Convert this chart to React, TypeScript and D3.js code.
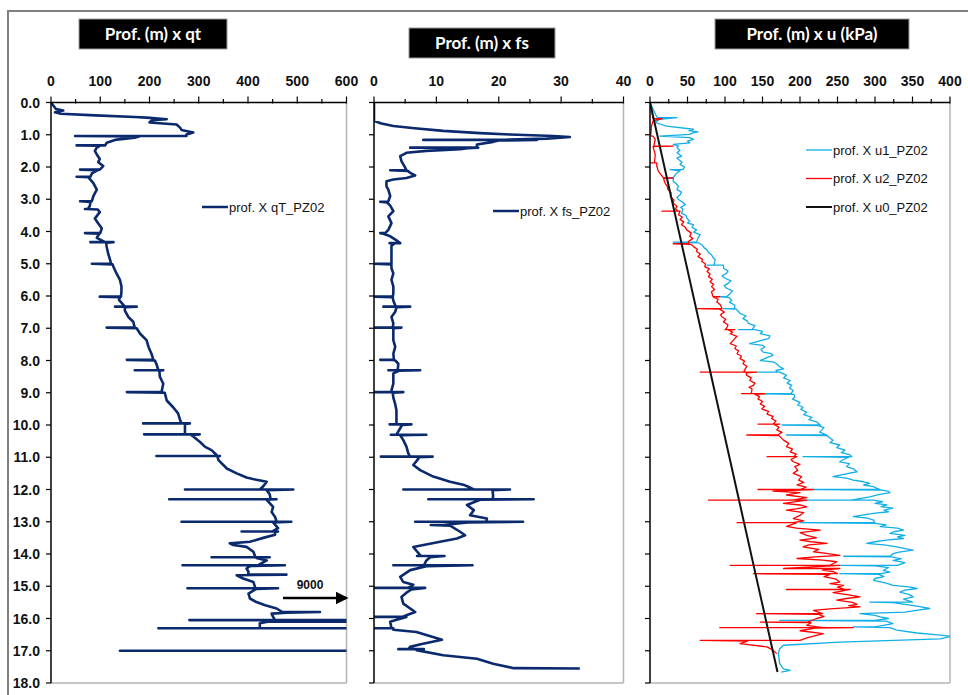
import React from "react";
import * as d3 from "d3";

// depth (m), value
const qtProfile: [number, number][] = [
  [0, 0], [0.1, 5], [0.2, 10], [0.25, 25], [0.3, 8], [0.35, 20], [0.4, 90], [0.45, 170], [0.47, 194],
  [0.52, 235], [0.55, 205], [0.62, 200], [0.68, 255], [0.78, 262], [0.85, 265], [0.93, 289], [0.99, 275],
  [1.04, 275], [1.04, 49], [1.05, 180], [1.09, 170], [1.15, 133], [1.25, 113], [1.33, 110], [1.33, 52],
  [1.34, 100], [1.4, 93], [1.5, 89], [1.61, 93], [1.75, 99], [1.85, 96], [1.97, 106], [2.08, 99], [2.08, 59],
  [2.1, 95], [2.2, 83], [2.3, 80], [2.3, 52], [2.32, 76], [2.5, 86], [2.7, 93], [2.9, 86], [3.06, 83],
  [3.06, 59], [3.08, 80], [3.2, 79], [3.3, 75], [3.3, 69], [3.32, 95], [3.4, 99], [3.6, 89], [3.75, 96],
  [3.9, 103], [4.05, 100], [4.05, 69], [4.07, 98], [4.2, 93], [4.33, 110], [4.33, 80], [4.33, 127],
  [4.35, 112], [4.47, 113], [4.68, 116], [4.88, 120], [5.0, 122], [5.0, 83], [5.02, 125], [5.1, 127],
  [5.3, 133], [5.5, 140], [5.7, 143], [5.87, 143], [6.02, 142], [6.02, 99], [6.04, 140], [6.12, 138],
  [6.33, 150], [6.33, 130], [6.33, 174], [6.35, 150], [6.45, 150], [6.65, 157], [6.8, 167], [6.98, 170],
  [6.98, 113], [7.0, 174], [7.17, 181], [7.37, 194], [7.58, 198], [7.79, 204], [7.98, 208], [7.98, 154],
  [8.0, 211], [8.15, 215], [8.3, 218], [8.3, 170], [8.3, 228], [8.32, 220], [8.5, 221], [8.72, 228],
  [8.93, 225], [8.98, 226], [8.98, 154], [9.0, 231], [9.24, 235], [9.45, 248], [9.64, 258], [9.84, 262],
  [9.95, 265], [9.95, 187], [9.95, 282], [9.97, 272], [10.1, 272], [10.29, 272], [10.29, 189], [10.29, 302],
  [10.31, 285], [10.52, 302], [10.68, 313], [10.78, 326], [10.93, 336], [10.96, 338], [10.96, 214],
  [10.96, 343], [10.98, 338], [11.09, 340], [11.35, 357], [11.5, 377], [11.63, 397], [11.7, 417],
  [11.76, 438], [11.9, 431], [12.0, 424], [12.0, 272], [12.0, 492], [12.02, 438], [12.15, 444], [12.3, 446],
  [12.3, 240], [12.3, 458], [12.32, 438], [12.54, 451], [12.7, 448], [12.85, 455], [13.0, 458], [13.0, 265],
  [13.0, 488], [13.02, 451], [13.2, 461], [13.3, 450], [13.3, 387], [13.3, 461], [13.32, 455], [13.4, 455],
  [13.5, 431], [13.62, 404], [13.67, 363], [13.72, 370], [13.78, 397], [13.93, 411], [14.1, 415],
  [14.1, 326], [14.1, 444], [14.12, 417], [14.2, 438], [14.35, 420], [14.35, 267], [14.35, 475],
  [14.37, 405], [14.45, 397], [14.55, 401], [14.64, 400], [14.64, 478], [14.66, 377], [14.76, 390],
  [14.87, 411], [15.06, 415], [15.06, 277], [15.06, 461], [15.08, 417], [15.23, 401], [15.38, 404],
  [15.49, 417], [15.59, 435], [15.69, 458], [15.8, 470], [15.8, 546], [15.82, 478], [15.85, 448],
  [15.95, 451], [16.05, 455], [16.05, 281], [16.05, 9000], [16.1, 440], [16.15, 424], [16.3, 424],
  [16.3, 218], [16.3, 9000], [16.38, 9000], [17.0, 9000], [17.0, 140], [17.0, 9000], [17.7, 9000],
];

const fsProfile: [number, number][] = [
  [0, 0], [0.3, 0], [0.57, 0], [0.65, 1.2], [0.73, 3.1], [0.8, 6.5], [0.88, 11.1], [0.95, 17], [0.99, 21.8],
  [1.04, 28.8], [1.07, 31.4], [1.12, 27.7], [1.15, 21.8], [1.16, 21], [1.16, 7.9], [1.16, 26.1], [1.18, 20],
  [1.22, 19.1], [1.3, 16.5], [1.4, 16.5], [1.4, 5.8], [1.4, 16.7], [1.42, 15], [1.45, 13.8], [1.5, 8.4],
  [1.56, 5.2], [1.66, 4.2], [1.82, 4.4], [2.02, 5.0], [2.1, 5.2], [2.1, 2.6], [2.12, 5.4], [2.18, 5.8],
  [2.26, 6.6], [2.34, 5.2], [2.39, 3.1], [2.44, 2.0], [2.6, 2.0], [2.7, 2.3], [2.9, 2.6], [3.06, 2.3],
  [3.08, 2.2], [3.08, 1.0], [3.1, 2.1], [3.2, 2.6], [3.37, 3.1], [3.53, 2.3], [3.74, 2.8], [3.95, 2.3],
  [4.05, 1.8], [4.05, 1.0], [4.07, 1.5], [4.15, 2.6], [4.3, 3.8], [4.36, 4.2], [4.36, 2.5], [4.38, 3.2],
  [4.45, 2.8], [4.78, 2.8], [5.0, 2.8], [5.0, 0], [5.02, 2.8], [5.14, 2.8], [5.3, 3.1], [5.5, 2.8],
  [5.7, 3.1], [5.92, 3.1], [6.02, 3.0], [6.02, 0], [6.04, 3.0], [6.15, 3.1], [6.33, 3.5], [6.33, 1.5],
  [6.33, 5.8], [6.35, 3.6], [6.49, 3.4], [6.65, 2.8], [6.85, 3.1], [6.98, 3.0], [6.98, 0], [6.98, 4.4],
  [7.0, 3.1], [7.2, 3.1], [7.37, 3.1], [7.58, 3.4], [7.79, 3.1], [7.98, 3.2], [7.98, 1.0], [7.98, 3.0],
  [8.0, 3.4], [8.1, 3.9], [8.3, 3.8], [8.3, 2.3], [8.3, 7.4], [8.32, 4.0], [8.4, 3.1], [8.72, 3.1],
  [8.93, 2.8], [8.98, 2.8], [8.98, 0], [8.98, 4.7], [9.0, 3.0], [9.15, 3.1], [9.35, 3.4], [9.55, 3.6],
  [9.84, 3.6], [9.98, 3.6], [9.98, 2.5], [9.98, 6.0], [10.0, 4.5], [10.1, 4.2], [10.3, 3.6], [10.3, 2.7],
  [10.3, 8.4], [10.32, 4.2], [10.47, 4.7], [10.67, 5.2], [10.88, 5.5], [10.98, 5.8], [10.98, 1.1],
  [10.98, 9.4], [11.0, 7.0], [11.05, 7.1], [11.24, 6.3], [11.4, 7.4], [11.6, 9.5], [11.76, 12.2],
  [11.85, 14.3], [11.94, 15.4], [12.0, 16], [12.0, 4.7], [12.0, 21.8], [12.02, 19], [12.2, 19.1],
  [12.3, 19], [12.3, 8.7], [12.3, 25.6], [12.32, 17], [12.48, 14.9], [12.64, 16.0], [12.8, 15.4],
  [12.9, 18.1], [13.0, 18], [13.0, 6.6], [13.0, 23.9], [13.02, 15], [13.1, 11.1], [13.1, 9.1],
  [13.12, 12.2], [13.31, 13.8], [13.42, 14.6], [13.52, 13.3], [13.62, 10.6], [13.78, 6.3], [13.9, 6.8],
  [14.06, 7.5], [14.06, 6.9], [14.06, 11.3], [14.1, 9.0], [14.2, 8.4], [14.35, 8.0], [14.35, 3.1],
  [14.35, 15.8], [14.38, 8.4], [14.5, 5.8], [14.71, 4.2], [14.87, 4.7], [14.95, 6.3], [15.05, 5.5],
  [15.05, 0], [15.05, 8.2], [15.1, 6.0], [15.2, 5.2], [15.33, 4.4], [15.54, 4.7], [15.8, 6.6], [15.9, 5.2],
  [15.95, 4.5], [15.95, 0], [15.95, 5.2], [16.05, 3.5], [16.1, 2.6], [16.3, 2.8], [16.3, 0], [16.3, 3.1],
  [16.35, 3.1], [16.42, 6.8], [16.66, 10.9], [16.8, 7.5], [16.88, 5.8], [16.95, 5.5], [16.95, 3.9],
  [16.95, 8.0], [16.98, 6.8], [17.14, 11.1], [17.25, 16.5], [17.4, 19.1], [17.54, 22.4], [17.55, 33],
];

const u1Profile: [number, number][] = [
  [0, 0], [0.2, 4], [0.4, 8], [0.47, 10], [0.47, 36], [0.52, 13], [0.62, 7], [0.73, 22], [0.83, 58],
  [0.87, 52], [0.91, 64], [0.95, 56], [0.99, 53], [1.04, 13], [1.09, 53], [1.14, 58], [1.2, 50], [1.25, 53],
  [1.3, 31], [1.35, 38], [1.4, 36], [1.48, 40], [1.56, 36], [1.66, 42], [1.72, 36], [1.77, 38], [1.85, 43],
  [1.92, 40], [2.0, 46], [2.08, 44], [2.08, 27], [2.12, 40], [2.18, 36], [2.26, 33], [2.34, 31], [2.34, 18],
  [2.36, 31], [2.44, 31], [2.52, 35], [2.6, 38], [2.7, 36], [2.78, 42], [2.86, 40], [2.94, 36], [3.01, 38],
  [3.1, 44], [3.17, 47], [3.25, 41], [3.32, 44], [3.43, 42], [3.5, 48], [3.58, 49], [3.69, 53], [3.74, 50],
  [3.79, 58], [3.87, 56], [3.95, 62], [4.02, 58], [4.1, 67], [4.2, 64], [4.33, 62], [4.33, 31], [4.35, 65],
  [4.41, 69], [4.5, 72], [4.57, 76], [4.65, 78], [4.72, 82], [4.8, 84], [4.88, 87], [5.04, 85], [5.04, 76],
  [5.04, 98], [5.14, 98], [5.22, 104], [5.3, 102], [5.38, 96], [5.45, 100], [5.53, 108], [5.61, 104],
  [5.68, 99], [5.76, 102], [5.84, 110], [5.92, 107], [6.02, 102], [6.02, 89], [6.04, 105], [6.13, 109],
  [6.2, 106], [6.28, 113], [6.39, 113], [6.39, 98], [6.41, 115], [6.48, 118], [6.54, 120], [6.62, 128],
  [6.7, 124], [6.78, 130], [6.85, 131], [6.92, 140], [6.98, 138], [7.04, 136], [7.04, 118], [7.04, 140],
  [7.1, 150], [7.17, 147], [7.24, 160], [7.32, 158], [7.4, 145], [7.48, 133], [7.53, 150], [7.58, 153],
  [7.66, 148], [7.74, 151], [7.79, 162], [7.84, 164], [7.92, 155], [8.0, 147], [8.05, 165], [8.1, 169],
  [8.18, 172], [8.26, 178], [8.31, 168], [8.36, 170], [8.36, 142], [8.36, 173], [8.46, 182], [8.54, 178],
  [8.62, 187], [8.7, 183], [8.77, 189], [8.85, 186], [8.93, 191], [9.03, 188], [9.03, 147], [9.05, 192],
  [9.13, 193], [9.2, 190], [9.3, 200], [9.38, 197], [9.45, 204], [9.52, 201], [9.6, 209], [9.68, 205],
  [9.76, 216], [9.83, 212], [9.9, 222], [10.0, 227], [10.0, 176], [10.02, 225], [10.08, 232], [10.15, 229],
  [10.22, 226], [10.31, 236], [10.31, 182], [10.33, 236], [10.4, 240], [10.47, 244], [10.55, 240],
  [10.62, 253], [10.7, 249], [10.78, 260], [10.86, 255], [10.92, 266], [10.98, 269], [10.98, 204],
  [11.0, 265], [11.07, 258], [11.14, 253], [11.2, 266], [11.29, 262], [11.37, 272], [11.45, 276],
  [11.52, 260], [11.6, 244], [11.65, 262], [11.71, 271], [11.76, 285], [11.81, 293], [11.86, 285],
  [11.91, 298], [11.96, 302], [12.0, 307], [12.0, 218], [12.02, 310], [12.06, 318], [12.1, 320],
  [12.16, 305], [12.23, 293], [12.28, 280], [12.33, 267], [12.33, 204], [12.33, 298], [12.38, 310],
  [12.43, 300], [12.48, 316], [12.53, 308], [12.58, 324], [12.64, 312], [12.69, 318], [12.74, 298],
  [12.79, 285], [12.84, 271], [12.89, 290], [12.95, 298], [13.03, 300], [13.03, 200], [13.05, 300],
  [13.1, 315], [13.15, 307], [13.2, 330], [13.26, 338], [13.31, 325], [13.36, 320], [13.42, 340],
  [13.47, 330], [13.52, 338], [13.57, 315], [13.62, 300], [13.67, 289], [13.72, 312], [13.78, 329],
  [13.83, 340], [13.88, 351], [13.94, 332], [13.99, 324], [14.07, 320], [14.07, 258], [14.09, 322],
  [14.15, 335], [14.2, 324], [14.27, 340], [14.35, 330], [14.35, 253], [14.37, 300], [14.42, 318],
  [14.51, 311], [14.56, 320], [14.61, 307], [14.61, 253], [14.63, 305], [14.7, 312], [14.76, 300],
  [14.82, 298], [14.9, 315], [14.97, 324], [15.02, 345], [15.07, 356], [15.12, 340], [15.18, 333],
  [15.25, 345], [15.33, 351], [15.4, 338], [15.49, 350], [15.49, 293], [15.51, 324], [15.58, 345],
  [15.63, 360], [15.69, 373], [15.75, 355], [15.8, 340], [15.85, 280], [15.9, 300], [15.95, 307],
  [16.0, 318], [16.06, 300], [16.06, 173], [16.08, 315], [16.16, 324], [16.26, 300], [16.26, 271],
  [16.28, 320], [16.36, 329], [16.45, 356], [16.5, 380], [16.55, 402], [16.63, 387], [16.73, 253],
  [16.83, 178], [16.94, 173], [17.09, 171], [17.4, 173], [17.56, 178], [17.61, 187], [17.66, 175],
];

const u2Profile: [number, number][] = [
  [0, 0], [0.2, 2], [0.5, 4], [0.5, 16], [0.57, 4], [0.73, 2], [1.04, 1], [1.04, 4], [1.14, 7], [1.35, 5],
  [1.35, 31], [1.37, 4], [1.61, 7], [1.87, 6], [1.87, 0], [1.87, 9], [1.97, 9], [2.13, 11], [2.34, 18],
  [2.34, 31], [2.36, 18], [2.49, 20], [2.6, 23], [2.7, 24], [2.8, 28], [2.91, 27], [3.02, 32], [3.12, 31],
  [3.22, 36], [3.3, 34], [3.37, 38], [3.37, 16], [3.37, 40], [3.48, 38], [3.55, 43], [3.63, 40], [3.7, 45],
  [3.79, 42], [3.87, 47], [3.95, 49], [4.05, 55], [4.15, 53], [4.22, 57], [4.31, 51], [4.38, 52],
  [4.38, 31], [4.4, 55], [4.47, 58], [4.55, 63], [4.62, 62], [4.7, 67], [4.78, 64], [4.86, 70], [4.93, 69],
  [5.0, 74], [5.09, 73], [5.16, 79], [5.24, 76], [5.32, 80], [5.4, 78], [5.48, 83], [5.56, 80], [5.64, 85],
  [5.71, 82], [5.8, 86], [5.87, 82], [6.02, 84], [6.02, 93], [6.04, 85], [6.1, 91], [6.18, 89], [6.28, 94],
  [6.39, 96], [6.39, 62], [6.41, 93], [6.5, 99], [6.58, 94], [6.65, 96], [6.72, 101], [6.8, 98], [6.9, 104],
  [7.01, 102], [7.04, 100], [7.04, 113], [7.06, 105], [7.12, 110], [7.17, 107], [7.25, 116], [7.32, 113],
  [7.4, 110], [7.48, 107], [7.55, 115], [7.63, 113], [7.7, 118], [7.79, 116], [7.86, 122], [7.94, 120],
  [8.02, 126], [8.1, 124], [8.18, 129], [8.26, 127], [8.36, 125], [8.36, 67], [8.36, 142], [8.38, 128],
  [8.46, 129], [8.54, 135], [8.62, 133], [8.7, 140], [8.77, 138], [8.83, 132], [8.88, 136], [9.03, 135],
  [9.03, 122], [9.03, 153], [9.05, 140], [9.12, 146], [9.19, 144], [9.27, 150], [9.35, 147], [9.42, 153],
  [9.5, 149], [9.58, 158], [9.66, 156], [9.73, 164], [9.8, 162], [9.88, 168], [9.97, 164], [9.97, 144],
  [9.97, 173], [9.99, 166], [10.07, 172], [10.15, 169], [10.23, 176], [10.31, 170], [10.31, 129],
  [10.33, 172], [10.4, 175], [10.47, 178], [10.57, 185], [10.67, 182], [10.75, 190], [10.83, 187],
  [10.9, 195], [10.98, 192], [10.98, 156], [10.98, 196], [11.0, 194], [11.07, 188], [11.14, 191],
  [11.22, 200], [11.29, 193], [11.4, 197], [11.5, 191], [11.6, 202], [11.71, 198], [11.78, 205],
  [11.86, 196], [11.93, 208], [12.0, 200], [12.0, 144], [12.0, 218], [12.05, 164], [12.1, 200],
  [12.17, 182], [12.25, 209], [12.33, 190], [12.33, 78], [12.33, 209], [12.43, 178], [12.48, 200],
  [12.54, 209], [12.6, 195], [12.64, 182], [12.72, 205], [12.8, 200], [12.9, 191], [12.97, 205],
  [13.03, 190], [13.03, 116], [13.03, 196], [13.14, 182], [13.2, 195], [13.26, 227], [13.34, 200],
  [13.42, 209], [13.5, 222], [13.57, 200], [13.62, 215], [13.67, 236], [13.72, 212], [13.78, 204],
  [13.86, 225], [13.93, 218], [13.98, 235], [14.04, 253], [14.09, 220], [14.14, 196], [14.19, 230],
  [14.24, 249], [14.35, 240], [14.35, 107], [14.35, 253], [14.45, 178], [14.45, 253], [14.5, 230],
  [14.55, 245], [14.61, 250], [14.61, 138], [14.63, 240], [14.7, 232], [14.78, 248], [14.87, 253],
  [14.92, 240], [14.97, 258], [15.03, 250], [15.1, 260], [15.1, 182], [15.1, 267], [15.15, 255],
  [15.2, 244], [15.27, 265], [15.33, 280], [15.38, 262], [15.43, 249], [15.5, 270], [15.56, 276],
  [15.6, 265], [15.64, 280], [15.7, 240], [15.75, 218], [15.85, 230], [15.85, 142], [15.87, 225],
  [15.94, 232], [16.0, 222], [16.11, 210], [16.11, 147], [16.13, 215], [16.21, 209], [16.28, 230],
  [16.28, 93], [16.28, 271], [16.3, 220], [16.38, 200], [16.47, 231], [16.6, 209], [16.68, 200],
  [16.68, 67], [16.7, 130], [16.78, 120], [16.88, 156], [16.98, 164], [17.09, 169],
];

const u0Profile: [number, number][] = [[0, 0], [17.66, 170]];

const depthTicks = d3.range(0, 19, 1);
const qtTicks = [0, 100, 200, 300, 400, 500, 600];
const fsTicks = [0, 10, 20, 30, 40];
const uTicks = [0, 50, 100, 150, 200, 250, 300, 350, 400];

const NAVY = "#0b2a6e";
const CYAN = "#12aee8";
const RED = "#ff0000";
const narrow = "'Liberation Sans Narrow', 'Arial Narrow', 'Liberation Sans', Arial, sans-serif";
const titleFont = "Lato, 'Open Sans', sans-serif";

const top = 102.5;
const bottom = 683;
const y = d3.scaleLinear().domain([0, 18]).range([top, bottom]);

type Series = { data: [number, number][]; color: string; width: number; name: string };

function Panel(props: {
  id: string; x0: number; x1: number; max: number; ticks: number[]; minor: number;
  series: Series[]; depthLabels?: boolean; legendX: number; legendY: number;
}) {
  const { id, x0, x1, max, ticks, minor, series, depthLabels, legendX, legendY } = props;
  const x = d3.scaleLinear().domain([0, max]).range([x0, x1]);
  const line = d3.line<[number, number]>().x((d) => x(d[1])).y((d) => y(d[0]));
  const minorTicks = d3.range(0, max + 0.001, minor);
  return (
    <g>
      <defs>
        <clipPath id={id}>
          <rect x={x0} y={top} width={x1 - x0} height={bottom - top} />
        </clipPath>
      </defs>
      <line x1={x1} x2={x1} y1={top} y2={bottom} stroke="#b4b4b4" strokeWidth={1.5} />
      <line x1={x0} x2={x1} y1={bottom} y2={bottom} stroke="#b4b4b4" strokeWidth={1.5} />
      <g clipPath={`url(#${id})`}>
        {series.map((s) => (
          <path key={s.name} d={line(s.data) || ""} fill="none" stroke={s.color}
            strokeWidth={s.width} strokeLinejoin="round" />
        ))}
      </g>
      <line x1={x0} x2={x1} y1={top} y2={top} stroke="#000" strokeWidth={1.5} />
      <line x1={x0} x2={x0} y1={top} y2={bottom} stroke="#000" strokeWidth={1.5} />
      {minorTicks.map((t) => (
        <line key={"m" + t} x1={x(t)} x2={x(t)} y1={top - (ticks.includes(t) ? 6 : 3.5)} y2={top + 1}
          stroke="#000" strokeWidth={1.2} />
      ))}
      {ticks.map((t) => (
        <text key={"t" + t} x={x(t)} y={top - 17} textAnchor="middle" fontFamily={narrow}
          fontWeight="bold" fontSize={14} fill="#111">{t}</text>
      ))}
      {depthTicks.map((d) => (
        <line key={"d" + d} x1={x0 - 5} x2={x0} y1={y(d)} y2={y(d)} stroke="#000" strokeWidth={1.2} />
      ))}
      {depthLabels && depthTicks.map((d) => (
        <text key={"dl" + d} x={x0 - 11} y={y(d) + 5} textAnchor="end" fontFamily={narrow}
          fontWeight="bold" fontSize={14} fill="#111">{d.toFixed(1)}</text>
      ))}
      {series.map((s, i) => (
        <g key={"lg" + s.name} transform={`translate(${legendX},${legendY + i * 28.5})`}>
          <line x1={0} x2={26} y1={0} y2={0} stroke={s.color} strokeWidth={Math.min(s.width, 2.5)} />
          <text x={27} y={4.5} fontFamily={narrow} fontSize={13} fill="#111">{s.name}</text>
        </g>
      ))}
    </g>
  );
}

function Title(props: { x: number; y: number; w: number; text: string }) {
  const { x, y: ty, w, text } = props;
  return (
    <g>
      <rect x={x} y={ty} width={w} height={30} fill="#000" stroke="#9a9a9a" strokeWidth={1} />
      <text x={x + w / 2} y={ty + 21} textAnchor="middle" fontFamily={titleFont} fontWeight="bold"
        fontSize={17} fill="#fff">{text}</text>
    </g>
  );
}

export default function App() {
  return (
    <svg width={968} height={695} style={{ position: "absolute", left: 0, top: 0, background: "#fff" }}>
      <path d="M968,11 H8 V695" fill="none" stroke="#808080" strokeWidth={2} />
      <Title x={79} y={19} w={148} text="Prof. (m) x qt" />
      <Title x={409} y={28} w={146} text="Prof. (m) x fs" />
      <Title x={715} y={19} w={194} text="Prof. (m) x u (kPa)" />
      <Panel id="c1" x0={51} x1={346.5} max={600} ticks={qtTicks} minor={50} depthLabels
        series={[{ data: qtProfile, color: NAVY, width: 2.6, name: "prof. X qT_PZ02" }]}
        legendX={202} legendY={207} />
      <Panel id="c2" x0={374} x1={623.5} max={40} ticks={fsTicks} minor={5}
        series={[{ data: fsProfile, color: NAVY, width: 2.6, name: "prof. X fs_PZ02" }]}
        legendX={493} legendY={211} />
      <Panel id="c3" x0={650} x1={950} max={400} ticks={uTicks} minor={25}
        series={[
          { data: u1Profile, color: CYAN, width: 1.3, name: "prof. X u1_PZ02" },
          { data: u2Profile, color: RED, width: 1.3, name: "prof. X u2_PZ02" },
          { data: u0Profile, color: "#111", width: 2, name: "prof. X u0_PZ02" },
        ]}
        legendX={806} legendY={150} />
      <text x={310} y={589} textAnchor="middle" fontFamily={narrow} fontWeight="bold" fontSize={12}
        fill="#111">9000</text>
      <defs>
        <marker id="arrow" viewBox="0 0 10 10" refX={8} refY={5} markerWidth={5} markerHeight={5}
          orient="auto">
          <path d="M0,0 L10,5 L0,10 z" fill="#000" />
        </marker>
      </defs>
      <line x1={283} x2={346} y1={598} y2={598} stroke="#000" strokeWidth={2.5} markerEnd="url(#arrow)" />
    </svg>
  );
}
